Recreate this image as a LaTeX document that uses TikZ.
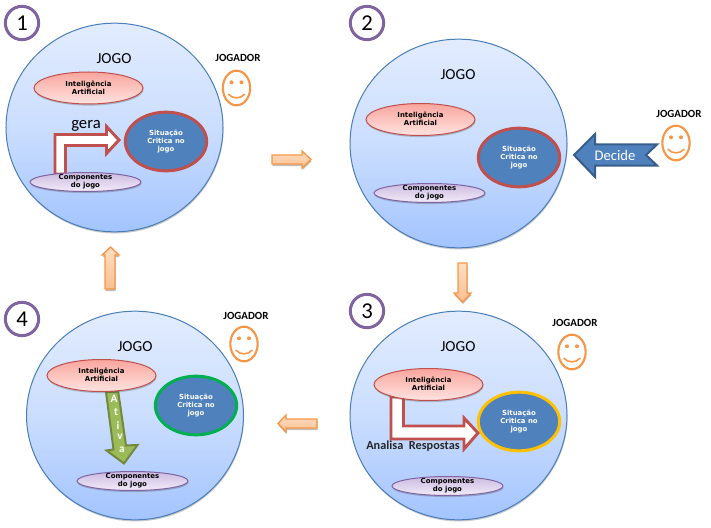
\documentclass[tikz,border=0pt]{standalone}
\usepackage{fontspec}
\setmainfont{Carlito}
\newfontfamily\dvfont{DejaVu Sans}
\usetikzlibrary{shapes.geometric,shadows}
\definecolor{redline}{HTML}{C0504D}
\definecolor{bluefill}{HTML}{4F81BD}
\definecolor{blueline}{HTML}{385D8A}
\definecolor{orangeline}{HTML}{F79646}
\definecolor{purpleline}{HTML}{8064A2}
\definecolor{greenfill}{HTML}{9BBB59}
\definecolor{greenline}{HTML}{71893F}
\definecolor{goldline}{HTML}{FFC000}
\definecolor{brightgreen}{HTML}{00B050}
\definecolor{discedge}{HTML}{4A7EBB}
\definecolor{disctop}{HTML}{E2ECFE}
\definecolor{discmid}{HTML}{CBDEFE}
\definecolor{discbot}{HTML}{A3C4FF}
\definecolor{aitop}{HTML}{F9A59E}
\definecolor{aibot}{HTML}{FFE4E1}
\definecolor{comptop}{HTML}{CBBAE1}
\definecolor{compbot}{HTML}{F2ECF8}
\definecolor{flowtop}{HTML}{FDDEC4}
\definecolor{flowbot}{HTML}{FAC090}
\tikzset{
  softshadow/.style={drop shadow={shadow xshift=0.4pt,shadow yshift=-1.2pt,opacity=.3,fill=black!70}},
  game/.style={ellipse,inner sep=0pt,minimum width=162.75pt,minimum height=156.5pt,draw=discedge,line width=.75pt,top color=disctop,bottom color=discbot,middle color=discmid,softshadow},
  numring/.style={circle,inner sep=0pt,minimum size=25pt,draw=purpleline,line width=2.25pt,fill=white,font=\fontsize{17}{17}\selectfont},
  iatext/.style={font=\dvfont\bfseries\fontsize{5.2}{6}\selectfont,align=center,text=black,inner sep=0pt},
  sittext/.style={font=\dvfont\bfseries\fontsize{5.2}{6}\selectfont,align=center,text=white,inner sep=0pt},
  aibox/.style={ellipse,inner sep=0pt,minimum width=81.75pt,minimum height=24pt,draw=redline,line width=.75pt,top color=aitop,bottom color=aibot,softshadow,label={[iatext,yshift=.5pt]center:Inteligência\\Artificial}},
  compbox/.style={ellipse,inner sep=0pt,minimum width=83.25pt,minimum height=14.25pt,draw=purpleline,line width=.75pt,top color=comptop,bottom color=compbot,softshadow,label={[iatext]center:Componentes\\do jogo}},
  sitbox/.style={ellipse,inner sep=0pt,minimum width=61pt,minimum height=44pt,line width=2.25pt,fill=bluefill,draw=#1,label={[sittext]center:Situação\\Critica no\\jogo}},
  gamelabel/.style={font=\fontsize{11.5}{12}\selectfont,inner sep=0pt},
  playerlabel/.style={font=\bfseries\fontsize{8.2}{10}\selectfont,inner sep=0pt,text=black},
  facering/.style={ellipse,inner sep=0pt,minimum width=20.5pt,minimum height=26pt,draw=orangeline,line width=1.6pt},
  smilefeature/.style={draw=orangeline,line width=1.2pt,line cap=round},
  flowarrow/.style={draw=orangeline,line width=1pt,top color=flowtop,bottom color=flowbot,drop shadow={shadow xshift=0.4pt,shadow yshift=-1.5pt,opacity=.25,fill=black}},
  bentarrow/.style={draw=redline,line width=2.2pt,fill=white,miter limit=6},
  pics/smiley/.style={code={
    \node[facering] (-ring) at (0,0) {};
    \fill[orangeline] (-5,-5.7) circle[radius=2];
    \fill[orangeline] (5,-5.7) circle[radius=2];
    \draw[smilefeature] (-8,6.3) .. controls (-4,11) and (4,11) .. (8,6.3);
  }},
}
\begin{document}
\begin{tikzpicture}[x=0.75pt,y=-0.75pt]
\useasboundingbox (0,0) rectangle (711,528);
% big discs
\node[game] (g1) at (114.5,127.5) {};
\node[game] (g2) at (458.5,143.5) {};
\node[game] (g3) at (458.5,415.5) {};
\node[game] (g4) at (135,415.5) {};
% numbers
\node[numring] (n1) at (22,23) {1};
\node[numring] (n2) at (367,23) {2};
\node[numring] (n3) at (367,311) {3};
\node[numring] (n4) at (22,319) {4};
% JOGO
\node[gamelabel] (j1) at (114,59) {JOGO};
\node[gamelabel] (j2) at (458,75) {JOGO};
\node[gamelabel] (j3) at (458,347) {JOGO};
\node[gamelabel] (j4) at (135,347) {JOGO};
% bent arrows
\draw[bentarrow] (55,174) -- (55,134.5) -- (106.5,134.5) -- (106.5,126.5) -- (119,140) -- (106.5,153.5) -- (106.5,145.5) -- (65.5,145.5) -- (65.5,174) -- cycle;
\draw[bentarrow] (391,397) -- (391,439) -- (464,439) -- (464,449) -- (478,433) -- (464,418) -- (464,426) -- (403.5,426) -- (403.5,397) -- cycle;
% Ativa arrow
\draw[draw=greenline,line width=1.5pt,fill=greenfill] (106,392) -- (118.3,392) -- (126,445.5) -- (137.5,445) -- (124,463.5) -- (106.5,450.5) -- (113.5,449.5) -- cycle;
% Decide arrow
\draw[draw=blueline,line width=1.5pt,fill=bluefill] (574,155) -- (595,134) -- (595,144.5) -- (657,144.5) -- (646,155) -- (657,165.5) -- (595,165.5) -- (595,177) -- cycle;
% ellipses
\node[aibox] (a1) at (88.5,88) {};
\node[aibox] (a2) at (420.5,119.5) {};
\node[aibox] (a3) at (428.5,384.5) {};
\node[aibox] (a4) at (101.5,375.5) {};
\node[compbox] (c1) at (85.5,182) {};
\node[compbox] (c2) at (429.5,193) {};
\node[compbox] (c3) at (447.5,486) {};
\node[compbox] (c4) at (132.5,481) {};
\node[sitbox=redline] (s1) at (166,141.5) {};
\node[sitbox=redline] (s2) at (519,157.5) {};
\node[sitbox=goldline] (s3) at (519,421.5) {};
\node[sitbox=brightgreen] (s4) at (196,405.5) {};
% players
\node[playerlabel] (p1) at (238,58) {JOGADOR};
\node[playerlabel] (p2) at (679,114) {JOGADOR};
\node[playerlabel] (p3) at (575,323) {JOGADOR};
\node[playerlabel] (p4) at (246,316) {JOGADOR};
\pic (f1) at (236.5,88) {smiley};
\pic (f2) at (676,143) {smiley};
\pic (f3) at (572,352) {smiley};
\pic (f4) at (244,344) {smiley};
% arrow labels
\node[font=\fontsize{12.5}{13}\selectfont,inner sep=0pt] (v1) at (86,126) {gera};
\node[font=\bfseries\fontsize{9.2}{11}\selectfont,inner sep=0pt,text=black!85] (v3) at (413,446) {Analisa\ \ Respostas};
\node[font=\fontsize{11}{13}\selectfont,text=white,inner sep=0pt] (v2) at (615,155) {Decide};
\foreach \ch/\px/\py in {A/114/399,t/116/412,i/118/426,v/120/437,a/122/450}
  \node[font=\bfseries\fontsize{8.5}{9}\selectfont,text=white,inner sep=0pt] (ativa\ch) at (\px,\py) {\ch};
% flow arrows
\draw[flowarrow] (272,155) -- (302,155) -- (302,151) -- (311,159.5) -- (302,168) -- (302,164) -- (272,164) -- cycle;
\draw[flowarrow] (458,263) -- (467,263) -- (467,293) -- (471,293) -- (462.5,302) -- (454,293) -- (458,293) -- cycle;
\draw[flowarrow] (317,419) -- (286,419) -- (286,415) -- (278,423.5) -- (286,432) -- (286,428) -- (317,428) -- cycle;
\draw[flowarrow] (105,289) -- (105,255) -- (102,255) -- (110.5,247) -- (119,255) -- (115,255) -- (115,289) -- cycle;
\end{tikzpicture}
\end{document}
